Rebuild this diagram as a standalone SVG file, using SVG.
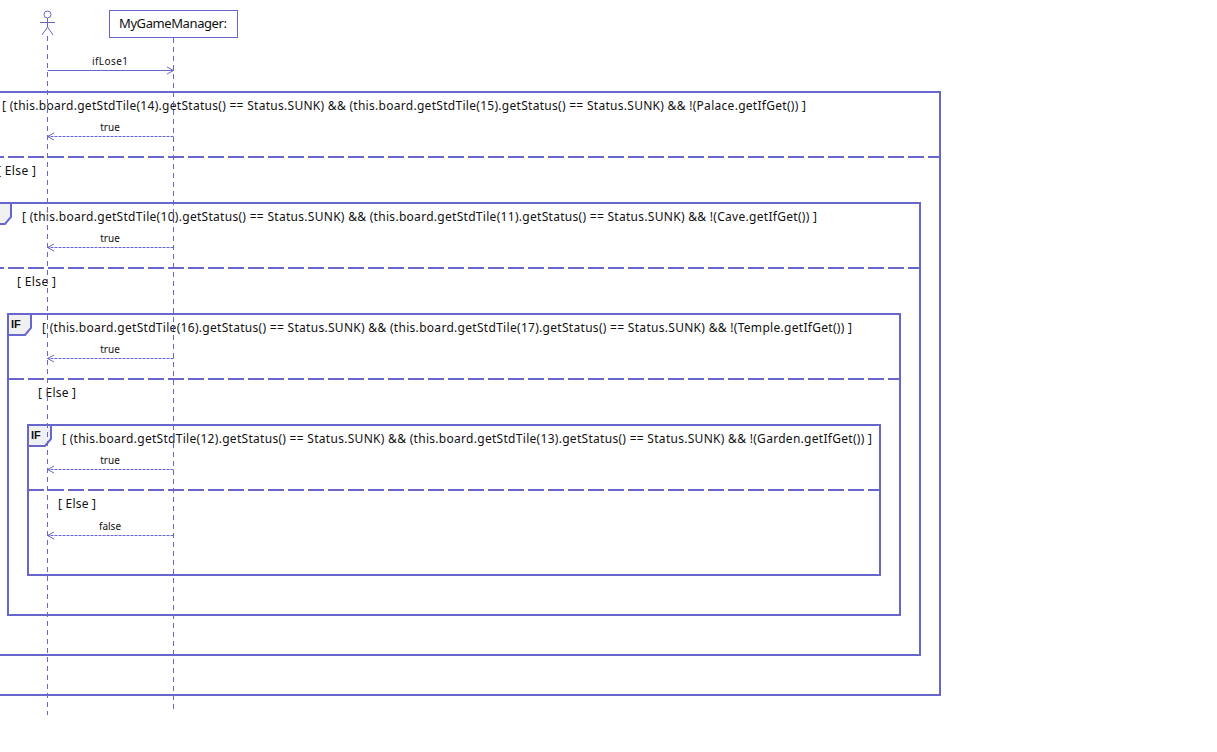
<svg xmlns="http://www.w3.org/2000/svg" width="1217" height="752" viewBox="0 0 1217 752">
<style>
text{font-family:"Noto Sans","Liberation Sans",sans-serif;fill:#111}
.g{font-size:12px}
.m{font-size:10px;text-anchor:middle}
.f{fill:none;stroke:#6666cc;stroke-width:2}
.d{fill:none;stroke:#6666cc;stroke-width:2;stroke-dasharray:16 4}
.t{fill:#f0f0f0;stroke:#6666cc;stroke-width:2}
.l{fill:none;stroke:#6666cc;stroke-width:1;stroke-dasharray:5 4}
.s{fill:none;stroke:#6666cc;stroke-width:1}
.r{fill:none;stroke:#6666cc;stroke-width:1;stroke-dasharray:3 1}
.if{font-size:11px;font-weight:bold;font-family:"Liberation Sans",sans-serif}
</style>
<defs>
<marker id="a" markerUnits="userSpaceOnUse" markerWidth="10" markerHeight="10" refX="8" refY="5" orient="auto"><path d="M1.500 1.500L8 5L1.500 8.500" fill="none" stroke="#6666cc"/></marker>
</defs>
<rect width="1217" height="752" fill="#fff"/>
<g id="frame-1">
<rect class="f" x="-32" y="92" width="972" height="603"/>
<path class="d" d="M-32 157H940"/>
<text class="g" x="2" y="110" textLength="804">[ (this.board.getStdTile(14).getStatus() == Status.SUNK) &amp;&amp; (this.board.getStdTile(15).getStatus() == Status.SUNK) &amp;&amp; !(Palace.getIfGet()) ]</text>
<text class="g" x="-3" y="175" textLength="39">[ Else ]</text>
</g>
<g id="frame-2">
<rect class="f" x="-12" y="203" width="932" height="452"/>
<path class="t" d="M-12 203H11V217L5 224H-12Z"/>
<path class="d" d="M-12 268H920"/>
<text class="g" x="22" y="221" textLength="795">[ (this.board.getStdTile(10).getStatus() == Status.SUNK) &amp;&amp; (this.board.getStdTile(11).getStatus() == Status.SUNK) &amp;&amp; !(Cave.getIfGet()) ]</text>
<text class="g" x="17" y="286" textLength="39">[ Else ]</text>
</g>
<g id="frame-3">
<rect class="f" x="8" y="314" width="892" height="301"/>
<path class="t" d="M8 314H31V328L25 335H8Z"/>
<text class="if" x="11" y="328">IF</text>
<path class="d" d="M8 379H900"/>
<text class="g" x="42" y="332" textLength="810">[ (this.board.getStdTile(16).getStatus() == Status.SUNK) &amp;&amp; (this.board.getStdTile(17).getStatus() == Status.SUNK) &amp;&amp; !(Temple.getIfGet()) ]</text>
<text class="g" x="38" y="397" textLength="38">[ Else ]</text>
</g>
<g id="frame-4">
<rect class="f" x="28" y="425" width="852" height="150"/>
<path class="t" d="M28 425H51V439L45 446H28Z"/>
<text class="if" x="31" y="439">IF</text>
<path class="d" d="M28 490H880"/>
<text class="g" x="62" y="443" textLength="810">[ (this.board.getStdTile(12).getStatus() == Status.SUNK) &amp;&amp; (this.board.getStdTile(13).getStatus() == Status.SUNK) &amp;&amp; !(Garden.getIfGet()) ]</text>
<text class="g" x="58" y="508" textLength="38">[ Else ]</text>
</g>
<g id="actor">
<circle class="s" cx="47.500" cy="14.500" r="3.500"/>
<path class="s" d="M47.500 18V27M40 22.500H55M47.500 27L42 35M47.500 27L53 35"/>
</g>
<g id="manager">
<rect x="109.500" y="10.500" width="128" height="27" fill="#fff" stroke="#6666cc"/>
<text x="173" y="28" font-size="13" text-anchor="middle" textLength="108">MyGameManager:</text>
</g>
<g id="connectors">
<path class="l" d="M47.500 36V715"/>
<path class="l" d="M173.500 38V713"/>
<path class="s" d="M47.500 70.500H173.500" marker-end="url(#a)"/>
<path class="r" d="M173.500 136.500H47.500" marker-end="url(#a)"/>
<path class="r" d="M173.500 247.500H47.500" marker-end="url(#a)"/>
<path class="r" d="M173.500 358.500H47.500" marker-end="url(#a)"/>
<path class="r" d="M173.500 469.500H47.500" marker-end="url(#a)"/>
<path class="r" d="M173.500 535.500H47.500" marker-end="url(#a)"/>
<text class="m" x="110" y="65" textLength="36">ifLose1</text>
<text class="m" x="110" y="131">true</text>
<text class="m" x="110" y="242">true</text>
<text class="m" x="110" y="353">true</text>
<text class="m" x="110" y="464">true</text>
<text class="m" x="110" y="530">false</text>
</g>
</svg>
